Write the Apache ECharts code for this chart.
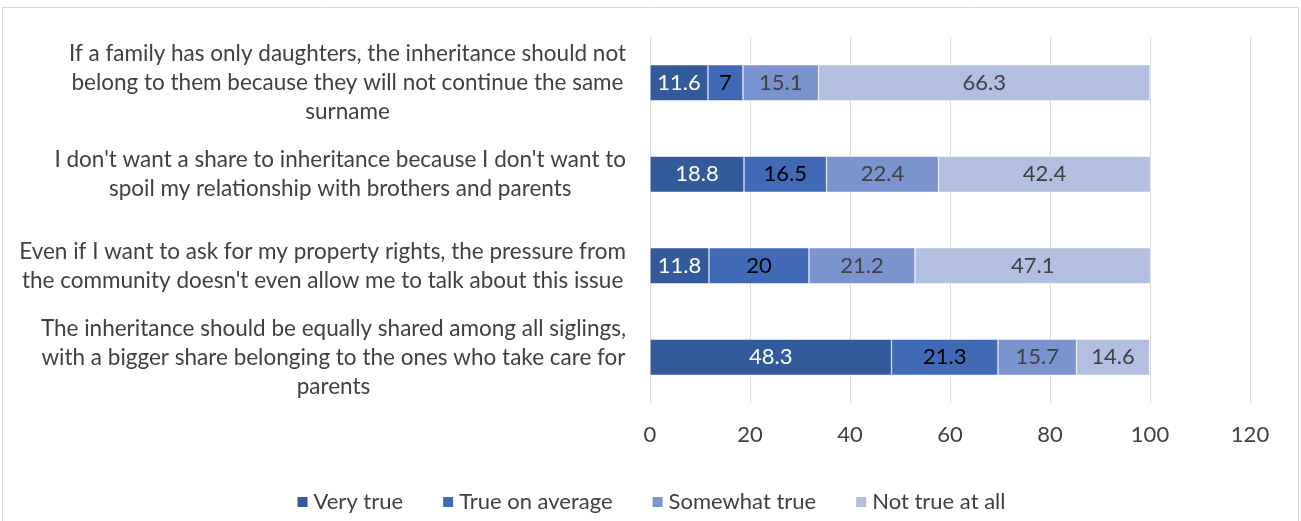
<!DOCTYPE html>
<html><head><meta charset="utf-8">
<script src="https://cdn.jsdelivr.net/npm/echarts@6/dist/echarts.min.js"></script>
<style>html,body{margin:0;padding:0;background:#fff}#c{width:1301px;height:521px}</style>
</head><body><div id="c"></div>
<script>
const categories = [
  "If a family has only daughters, the inheritance should not\nbelong to them because they will not continue the same\nsurname",
  "I don't want a share to inheritance because I don't want to\nspoil my relationship with brothers and parents",
  "Even if I want to ask for my property rights, the pressure from\nthe community doesn't even allow me to talk about this issue",
  "The inheritance should be equally shared among all siglings,\nwith a bigger share belonging to the ones who take care for\nparents"
];
const seriesNames = ["Very true", "True on average", "Somewhat true", "Not true at all"];
const veryTrue = [11.6, 18.8, 11.8, 48.3];
const trueOnAverage = [7, 16.5, 20, 21.3];
const somewhatTrue = [15.1, 22.4, 21.2, 15.7];
const notTrueAtAll = [66.3, 42.4, 47.1, 14.6];
const xTicks = [0, 20, 40, 60, 80, 100, 120];

const colors = ["#335a9a", "#4069b6", "#7b93cf", "#b3bfe0"];
const labelColors = ["#ffffff", "#000000", "#404040", "#404040"];
const values = [veryTrue, trueOnAverage, somewhatTrue, notTrueAtAll];
const font = "Lato";
const fs = 22;

const chart = echarts.init(document.getElementById('c'));
chart.setOption({
  backgroundColor: '#fff',
  animation: false,
  graphic: [{type:'rect', shape:{x:2.5,y:7.5,width:1296,height:520}, style:{fill:'none',stroke:'#d9d9d9',lineWidth:1}}],
  grid: {left: 650, right: 51, top: 37, bottom: 118},
  legend: {
    bottom: 3, left: 'center', itemWidth: 12, itemHeight: 12, itemGap: 38, icon: 'rect',
    textStyle: {fontFamily: font, fontSize: fs, color: '#404040'},
    data: seriesNames
  },
  xAxis: {
    type: 'value', min: xTicks[0], max: xTicks[xTicks.length-1], interval: 20,
    axisLine: {show: false}, axisTick: {show: false},
    splitLine: {lineStyle: {color: '#d9d9d9', width: 1}},
    axisLabel: {fontFamily: font, fontSize: fs, color: '#404040', margin: 21}
  },
  yAxis: {
    type: 'category', inverse: true, data: categories,
    axisLine: {show: false}, axisTick: {show: false},
    axisLabel: {
      margin: 24, align: 'right',
      formatter: v => v.split('\n').map(l => '{c|' + l + '}').join('\n'),
      rich: {c: {align: 'center', fontFamily: font, fontSize: 22.5, color: '#404040', lineHeight: 29}}
    }
  },
  series: seriesNames.map((n, i) => ({
    name: n, type: 'bar', stack: 'a', data: values[i], barWidth: 36,
    itemStyle: {color: colors[i], borderColor: '#ffffff', borderWidth: 0.5},
    label: {show: true, position: 'inside', fontFamily: font, fontSize: fs, color: labelColors[i]}
  }))
});
</script></body></html>
